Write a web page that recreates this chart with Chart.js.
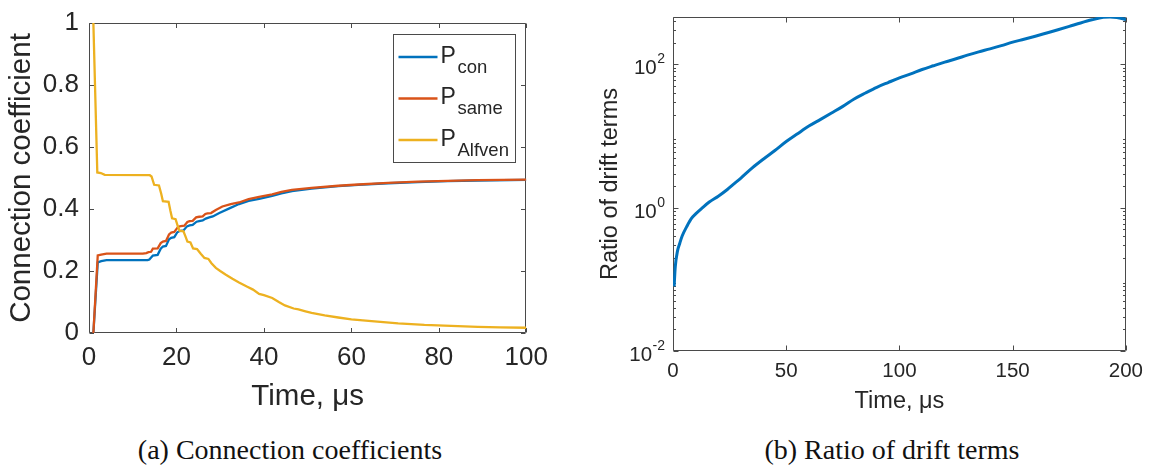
<!DOCTYPE html>
<html>
<head>
<meta charset="utf-8">
<script src="https://cdn.jsdelivr.net/npm/chart.js@4.4.1/dist/chart.umd.min.js"></script>
<style>
  html, body { margin: 0; padding: 0; background: #fff; }
  body { width: 1153px; height: 466px; position: relative; overflow: hidden; }
  .panel { position: absolute; top: 0; height: 420px; }
  #panelA { left: 0; width: 560px; }
  #panelB { left: 576px; width: 577px; }
  .caption {
    position: absolute; top: 432px; transform: translateX(-50%);
    font-family: "Liberation Serif", "Times New Roman", serif;
    font-size: 28px; line-height: 36px; color: #111; white-space: nowrap;
  }
</style>
</head>
<body>
<div class="panel" id="panelA"><canvas id="coefChart"></canvas></div>
<div class="panel" id="panelB"><canvas id="ratioChart"></canvas></div>
<div class="caption" style="left:290px">(a) Connection coefficients</div>
<div class="caption" style="left:892px">(b) Ratio of drift terms</div>

<script>
// ---------- Panel (a): connection coefficients vs time (µs) ----------
const conTime   = [1, 2, 2.8, 4, 13.4, 13.8, 14.6, 15.7, 16.4, 16.9, 17.6, 18.3, 18.8, 19.5, 20.2, 20.7, 21.6, 22.4, 23, 23.7, 24.6, 25.2, 26, 26.7, 27.5, 28.3, 29.8, 32.1, 34.3, 36.5, 38.9, 41.9, 44, 46.4, 50.9, 57, 61.6, 68.4, 75.2, 82, 88.9, 100];
const conValue  = [0, 0.228, 0.232, 0.235, 0.235, 0.237, 0.25, 0.252, 0.272, 0.279, 0.281, 0.302, 0.307, 0.309, 0.325, 0.329, 0.331, 0.344, 0.347, 0.349, 0.359, 0.361, 0.363, 0.369, 0.373, 0.376, 0.387, 0.402, 0.416, 0.426, 0.433, 0.442, 0.45, 0.458, 0.466, 0.474, 0.478, 0.483, 0.487, 0.49, 0.492, 0.494];

const sameTime  = [1, 2, 2.8, 4, 12.3, 13.1, 13.6, 14.2, 14.6, 15.7, 16.4, 16.9, 17.6, 18.3, 18.8, 19.5, 20.4, 21, 21.8, 22.5, 23, 23.7, 24.5, 25.2, 26, 26.6, 27.1, 27.9, 29, 30.5, 32.4, 34.3, 36.5, 38.9, 41.9, 44, 46.4, 50.9, 57, 61.6, 68.4, 75.2, 82, 88.9, 100];
const sameValue = [0, 0.25, 0.253, 0.256, 0.256, 0.258, 0.261, 0.262, 0.272, 0.273, 0.29, 0.295, 0.297, 0.318, 0.324, 0.326, 0.343, 0.345, 0.346, 0.358, 0.361, 0.362, 0.373, 0.375, 0.376, 0.384, 0.386, 0.387, 0.397, 0.408, 0.416, 0.421, 0.432, 0.439, 0.447, 0.455, 0.462, 0.468, 0.475, 0.479, 0.484, 0.488, 0.491, 0.493, 0.495];

const alfvenTime  = [1, 1.9, 2.7, 3.6, 13.9, 14.3, 14.9, 16, 16.5, 16.9, 18.2, 18.6, 19, 19.8, 20.3, 20.7, 21.6, 22.1, 22.5, 23.2, 23.8, 24.7, 25.6, 26.4, 27.3, 28, 29, 30, 31.3, 32.8, 34.3, 36.2, 37.5, 38.9, 40, 41.9, 43.4, 44.8, 46.8, 47.9, 49.5, 50.9, 53.9, 57, 60, 64.6, 70.7, 76.7, 82.8, 88.9, 94, 100];
const alfvenValue = [1, 0.518, 0.516, 0.51, 0.509, 0.505, 0.478, 0.476, 0.45, 0.425, 0.423, 0.395, 0.37, 0.367, 0.345, 0.33, 0.328, 0.31, 0.295, 0.292, 0.273, 0.271, 0.255, 0.242, 0.239, 0.225, 0.21, 0.2, 0.188, 0.175, 0.163, 0.149, 0.14, 0.126, 0.122, 0.113, 0.1, 0.089, 0.079, 0.076, 0.07, 0.065, 0.057, 0.05, 0.044, 0.038, 0.031, 0.026, 0.023, 0.02, 0.018, 0.017];

const legendBase = 'P';
const legendSubscripts = ['con', 'same', 'Alfven'];

// ---------- Panel (b): ratio of drift terms vs time (µs), log scale ----------
const ratioTime  = [0.5, 1, 2, 3, 4, 6, 8, 10, 13, 16, 20, 24, 26.5, 30, 35, 40, 45, 50, 55, 60, 65, 70, 75, 80, 85, 90, 95, 100, 105, 110, 115, 120, 125, 130, 135, 140, 145, 150, 155, 160, 165, 170, 175, 180, 185, 190, 193, 196, 200];
const ratioValue = [0.08, 0.15, 0.25, 0.32, 0.4, 0.54, 0.7, 0.82, 1.0, 1.2, 1.45, 1.8, 2.1, 2.6, 3.6, 4.8, 6.3, 8.4, 10.8, 13.8, 17, 21, 26, 33, 40, 48, 56, 65, 74, 85, 96, 108, 120, 135, 150, 165, 183, 205, 225, 248, 275, 305, 340, 380, 420, 455, 460, 452, 425];
const ratioTickValues    = [0.01, 1, 100];
const ratioTickExponents = ['-2', '0', '2'];

const COLORS = { con: '#0072BD', same: '#D95319', alfven: '#EDB120' };
const AXIS_COLOR = '#4a4a4a';
const TEXT_COLOR = '#262626';
const SANS = '"Liberation Sans", Arial, Helvetica, sans-serif';

const toPoints = (xs, ys) => xs.map((x, i) => ({ x, y: ys[i] }));

// Box around the plot area with inward tick marks on all four sides
const boxedAxes = {
  id: 'boxedAxes',
  beforeDatasetsDraw(chart, args, opts) {
    const { ctx, chartArea: a, scales } = chart;
    const L = Math.round(a.left) + 0.5, R = Math.round(a.right) - 0.5;
    const T = Math.round(a.top) + 0.5, B = Math.round(a.bottom) - 0.5;
    ctx.save();
    ctx.strokeStyle = AXIS_COLOR;
    ctx.lineWidth = 1;
    ctx.beginPath();
    ctx.rect(L, T, R - L, B - T);
    const len = opts.tickLen || 5;
    scales.x.ticks.forEach(t => {
      const px = Math.round(scales.x.getPixelForValue(t.value)) + 0.5;
      ctx.moveTo(px, B); ctx.lineTo(px, B - len);
      ctx.moveTo(px, T); ctx.lineTo(px, T + len);
    });
    scales.y.ticks.forEach(t => {
      const py = Math.round(scales.y.getPixelForValue(t.value)) + 0.5;
      ctx.moveTo(L, py); ctx.lineTo(L + len, py);
      ctx.moveTo(R, py); ctx.lineTo(R - len, py);
    });
    if (opts.minorLog) {
      const y = scales.y;
      for (let e = Math.floor(Math.log10(y.min)); e <= Math.ceil(Math.log10(y.max)); e++) {
        for (let m = 2; m <= 9; m++) {
          const v = m * Math.pow(10, e);
          if (v <= y.min || v >= y.max) continue;
          const py = Math.round(y.getPixelForValue(v)) + 0.5;
          ctx.moveTo(L, py); ctx.lineTo(L + len * 0.5, py);
          ctx.moveTo(R, py); ctx.lineTo(R - len * 0.5, py);
        }
      }
    }
    ctx.stroke();
    ctx.restore();
  }
};

// Legend with subscripted labels, drawn inside the upper-right corner
const subscriptLegend = {
  id: 'subscriptLegend',
  afterDraw(chart, args, opts) {
    if (!opts.entries) return;
    const { ctx, chartArea: a } = chart;
    const w = 122, h = 128;
    const x0 = Math.round(a.right - 11 - w) + 0.5, y0 = Math.round(a.top + 10.5) + 0.5;
    ctx.save();
    ctx.fillStyle = '#fff';
    ctx.fillRect(x0, y0, w, h);
    ctx.strokeStyle = AXIS_COLOR;
    ctx.lineWidth = 1;
    ctx.strokeRect(x0, y0, w, h);
    opts.entries.forEach((e, i) => {
      const ly = y0 + 22.5 + i * 41.5;
      ctx.strokeStyle = e.color;
      ctx.lineWidth = 2.3;
      ctx.beginPath();
      ctx.moveTo(x0 + 5, ly); ctx.lineTo(x0 + 44, ly);
      ctx.stroke();
      ctx.fillStyle = TEXT_COLOR;
      ctx.textBaseline = 'alphabetic';
      ctx.font = '23px ' + SANS;
      ctx.fillText(e.base, x0 + 47, ly + 5.6);
      ctx.font = '18.5px ' + SANS;
      ctx.fillText(e.sub, x0 + 64, ly + 15.6);
    });
    ctx.restore();
  }
};

// Power-of-ten labels with superscript exponents for a log axis
const powerLabels = {
  id: 'powerLabels',
  afterDraw(chart, args, opts) {
    if (!opts.values) return;
    const { ctx, chartArea: a, scales } = chart;
    ctx.save();
    ctx.fillStyle = TEXT_COLOR;
    ctx.textBaseline = 'alphabetic';
    opts.values.forEach((v, i) => {
      const py = scales.y.getPixelForValue(v);
      const exp = opts.exponents[i];
      ctx.font = '14px ' + SANS;
      const ew = ctx.measureText(exp).width;
      const right = a.left - 8;
      ctx.textAlign = 'left';
      ctx.fillText(exp, right - ew, py - 1);
      ctx.font = '20.5px ' + SANS;
      ctx.textAlign = 'right';
      ctx.fillText('10', right - ew - 0.5, py + 10);
    });
    ctx.restore();
  }
};

Chart.register(boxedAxes, subscriptLegend, powerLabels);
Chart.defaults.font.family = SANS;
Chart.defaults.color = TEXT_COLOR;

const baseLine = { pointRadius: 0, pointHoverRadius: 0, fill: false };

new Chart(document.getElementById('coefChart'), {
  type: 'line',
  data: {
    datasets: [
      { ...baseLine, label: 'P_con',    data: toPoints(conTime, conValue),       borderColor: COLORS.con,    borderWidth: 2.3, order: 2 },
      { ...baseLine, label: 'P_same',   data: toPoints(sameTime, sameValue),     borderColor: COLORS.same,   borderWidth: 2.3, order: 1 },
      { ...baseLine, label: 'P_Alfven', data: toPoints(alfvenTime, alfvenValue), borderColor: COLORS.alfven, borderWidth: 2.3, order: 0 }
    ]
  },
  options: {
    responsive: true, maintainAspectRatio: false, animation: false,
    events: [],
    layout: { padding: { left: 0, top: 14.5, right: 31, bottom: 0 } },
    plugins: {
      legend: { display: false }, tooltip: { enabled: false },
      boxedAxes: { tickLen: 4.5 },
      subscriptLegend: {
        entries: legendSubscripts.map((s, i) => ({ base: legendBase, sub: s, color: [COLORS.con, COLORS.same, COLORS.alfven][i] }))
      }
    },
    scales: {
      x: {
        type: 'linear', min: 0, max: 100,
        grid: { display: false, drawTicks: false, tickLength: 0 },
        border: { display: false },
        ticks: { stepSize: 20, padding: 12, font: { size: 26, lineHeight: 1 }, color: TEXT_COLOR, maxRotation: 0 },
        title: { display: true, text: 'Time, μs', font: { size: 29.5 }, color: TEXT_COLOR, padding: { top: 0, bottom: 5 } },
        afterFit: s => { s.height = 87; }
      },
      y: {
        type: 'linear', min: 0, max: 1,
        grid: { display: false, drawTicks: false, tickLength: 0 },
        border: { display: false },
        ticks: { stepSize: 0.2, padding: 10, font: { size: 26, lineHeight: 1 }, color: TEXT_COLOR,
                 callback: v => String(Math.round(v * 10) / 10) },
        title: { display: true, text: 'Connection coefficient', font: { size: 29.5 }, color: TEXT_COLOR, padding: { top: 4, bottom: 0 } },
        afterFit: s => { s.width = 89; }
      }
    }
  }
});

new Chart(document.getElementById('ratioChart'), {
  type: 'line',
  data: {
    datasets: [
      { ...baseLine, label: 'ratio', data: toPoints(ratioTime, ratioValue), borderColor: COLORS.con, borderWidth: 3, cubicInterpolationMode: 'monotone' }
    ]
  },
  options: {
    responsive: true, maintainAspectRatio: false, animation: false,
    events: [],
    layout: { padding: { left: 0, top: 17, right: 21, bottom: 0 } },
    plugins: {
      legend: { display: false }, tooltip: { enabled: false },
      boxedAxes: { tickLen: 5, minorLog: true },
      powerLabels: { values: ratioTickValues, exponents: ratioTickExponents }
    },
    scales: {
      x: {
        type: 'linear', min: 0, max: 200,
        grid: { display: false, drawTicks: false, tickLength: 0 },
        border: { display: false },
        ticks: { stepSize: 50, padding: 10, font: { size: 20.5, lineHeight: 1 }, color: TEXT_COLOR, maxRotation: 0 },
        title: { display: true, text: 'Time, μs', font: { size: 23.5 }, color: TEXT_COLOR, padding: { top: 0, bottom: 4 } },
        afterFit: s => { s.height = 69; }
      },
      y: {
        type: 'logarithmic', min: 0.01, max: 460,
        grid: { display: false, drawTicks: false, tickLength: 0 },
        border: { display: false },
        ticks: { display: false },
        afterBuildTicks: s => { s.ticks = ratioTickValues.map(v => ({ value: v })); },
        title: { display: true, text: 'Ratio of drift terms', font: { size: 23.5 }, color: TEXT_COLOR, padding: { top: 20, bottom: 0 } },
        afterFit: s => { s.width = 97; }
      }
    }
  }
});
</script>
</body>
</html>
